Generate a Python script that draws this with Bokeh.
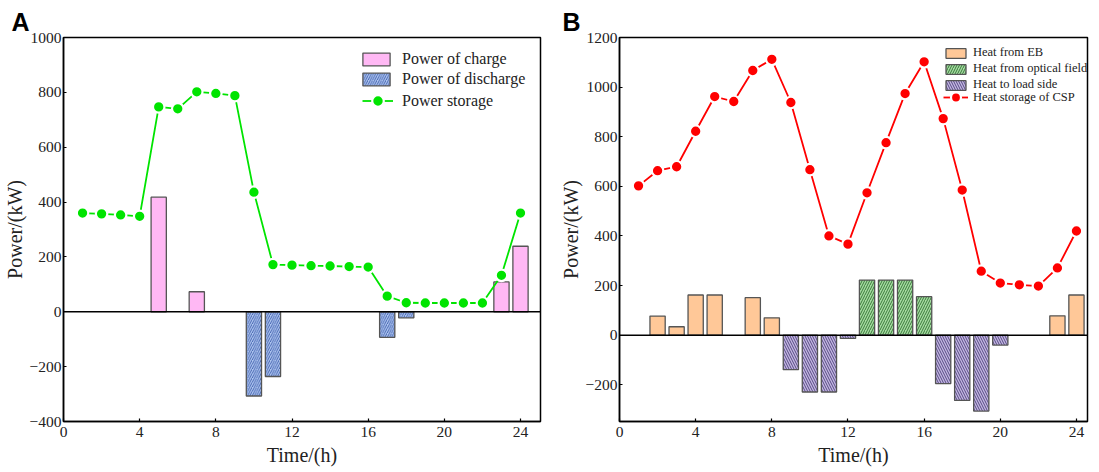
from bokeh.plotting import figure
from bokeh.layouts import row
from bokeh.models import Span, Legend, LegendItem, FixedTicker, Range1d
from bokeh.embed import file_html
from bokeh.resources import INLINE

# ---------------- data: panel A ----------------
hours = list(range(1, 25))
storage_a = [360, 357, 353, 348, 747, 740, 802, 796, 788, 436, 172, 170,
             168, 167, 165, 163, 57, 33, 32, 32, 32, 32, 133, 360]
charge_hours = [5, 7, 23, 24]
charge_vals = [418, 73, 109, 239]
discharge_hours = [10, 11, 17, 18]
discharge_vals = [-307, -236, -93, -22]

# ---------------- data: panel B ----------------
csp = [602, 663, 679, 822, 962, 942, 1067, 1112, 938, 667, 400, 367,
       574, 776, 974, 1102, 873, 585, 258, 210, 203, 198, 271, 420]
eb_hours = [2, 3, 4, 5, 7, 8, 23, 24]
eb_vals = [77, 34, 162, 162, 151, 70, 78, 162]
opt_hours = [13, 14, 15, 16]
opt_vals = [222, 222, 222, 155]
load_hours = [9, 10, 11, 12, 17, 18, 19, 20]
load_vals = [-139, -229, -229, -13, -195, -263, -306, -40]

x_ticks = [0, 4, 8, 12, 16, 20, 24]
ya_ticks = [-400, -200, 0, 200, 400, 600, 800, 1000]
yb_ticks = [-200, 0, 200, 400, 600, 800, 1000, 1200]

SERIF = "Liberation Serif"
EDGE = "#555555"


def fmt(v):
    return ("\u2212" + str(abs(v))) if v < 0 else str(v)


def make_fig(x_end, y_start, y_end, y_ticks, fw, fh, bl, br, bt, bb, letter, letter_off):
    p = figure(frame_width=fw, frame_height=fh, min_border_left=bl, min_border_right=br,
               min_border_top=bt, min_border_bottom=bb,
               x_range=Range1d(0, x_end), y_range=Range1d(y_start, y_end),
               output_backend="svg", toolbar_location=None)
    p.xgrid.visible = False
    p.ygrid.visible = False
    p.outline_line_color = "black"
    p.outline_line_width = 1.5
    p.outline_line_alpha = 1
    for ax, ticks in ((p.xaxis[0], x_ticks), (p.yaxis[0], y_ticks)):
        ax.ticker = FixedTicker(ticks=ticks)
        ax.major_label_overrides = {t: fmt(t) for t in ticks}
        ax.major_tick_in = 3
        ax.major_tick_out = 0
        ax.minor_tick_line_color = None
        ax.axis_line_width = 1.5
        ax.axis_line_color = "black"
        ax.major_tick_line_color = "black"
        ax.major_tick_line_width = 1.2
        ax.major_label_text_font = SERIF
        ax.major_label_text_font_size = "15.5px"
        ax.major_label_text_color = "#222222"
        ax.axis_label_text_font = SERIF
        ax.axis_label_text_font_style = "normal"
        ax.axis_label_text_color = "#222222"
    p.xaxis.major_label_standoff = 5
    p.xaxis.axis_label_standoff = 4
    p.yaxis.major_label_standoff = 2
    p.yaxis.axis_label_standoff = 1
    p.xaxis.axis_label = "Time/(h)"
    p.yaxis.axis_label = "Power/(kW)"
    p.xaxis.axis_label_text_font_size = "20px"
    p.yaxis.axis_label_text_font_size = "20px"
    p.add_layout(Span(location=0, dimension="width", line_color="black", line_width=1.5))
    p.title.text = letter
    p.title.text_font = "Liberation Sans"
    p.title.text_font_style = "bold"
    p.title.text_font_size = "25px"
    p.title.text_color = "black"
    p.title.align = "left"
    p.title.offset = letter_off
    p.title.standoff = 3
    return p


def legend(items, loc, pad, spacing, gw, gh, standoff, size):
    return Legend(items=items, location=loc, margin=0, padding=pad, spacing=spacing,
                  glyph_width=gw, glyph_height=gh, label_height=gh, label_standoff=standoff,
                  label_text_font=SERIF, label_text_font_size=size, label_text_color="#222222",
                  border_line_alpha=0, background_fill_alpha=0)


# ---------------- panel A ----------------
pa = make_fig(25.05, -400, 1000, ya_ticks, 477, 384, 55, 15, 37, 45, "A", -52)
r_ch = pa.vbar(x=charge_hours, top=charge_vals, bottom=0, width=0.8,
               fill_color="#FFB8F4", line_color=EDGE, line_width=1.3)
r_dis = pa.vbar(x=discharge_hours, top=0, bottom=discharge_vals, width=0.8,
                fill_color="#AFC6F0", line_color=EDGE, line_width=1.3,
                hatch_pattern="/", hatch_color="#3A5AAA", hatch_scale=4.5, hatch_weight=0.9)
r_la = pa.line(hours, storage_a, line_color="#00E400", line_width=1.8)
r_sa = pa.scatter(hours, storage_a, size=11.5, fill_color="#00E400", line_color="white", line_width=2.2)
pa.add_layout(legend([LegendItem(label="Power of charge", renderers=[r_ch]),
                      LegendItem(label="Power of discharge", renderers=[r_dis])],
                     (288, 325), 8, 2, 34, 16, 9, "16px"))
pa.add_layout(legend([LegendItem(label="Power storage", renderers=[r_la, r_sa])],
                     (299, 306), 0, 0, 31, 29, 9, "16px"))

# ---------------- panel B ----------------
pb = make_fig(24.58, -348, 1200, yb_ticks, 468, 384, 64, 3, 37, 45, "B", -57)
r_eb = pb.vbar(x=eb_hours, top=eb_vals, bottom=0, width=0.8,
               fill_color="#FFC898", line_color=EDGE, line_width=1.3)
r_opt = pb.vbar(x=opt_hours, top=opt_vals, bottom=0, width=0.8,
                fill_color="#A6DCA2", line_color=EDGE, line_width=1.3,
                hatch_pattern="/", hatch_color="#2E6E30", hatch_scale=5, hatch_weight=0.9)
r_load = pb.vbar(x=load_hours, top=0, bottom=load_vals, width=0.8,
                 fill_color="#C4B8E2", line_color=EDGE, line_width=1.3,
                 hatch_pattern="\\", hatch_color="#4A3C78", hatch_scale=5, hatch_weight=0.9)
r_lb = pb.line(hours, csp, line_color="#FF0000", line_width=1.8)
r_sb = pb.scatter(hours, csp, size=11.5, fill_color="#FF0000", line_color="white", line_width=2.2)
pb.add_layout(legend([LegendItem(label="Heat from EB", renderers=[r_eb]),
                      LegendItem(label="Heat from optical field", renderers=[r_opt]),
                      LegendItem(label="Heat to load side", renderers=[r_load])],
                     (322, 327), 2, 1, 25, 12, 5, "12.5px"))
pb.add_layout(legend([LegendItem(label="Heat storage of CSP", renderers=[r_lb, r_sb])],
                     (324, 311), 0, 0, 25, 26, 5, "12.5px"))

layout = row(pa, pb, spacing=0)
open("out.html", "w").write(file_html(layout, INLINE))
